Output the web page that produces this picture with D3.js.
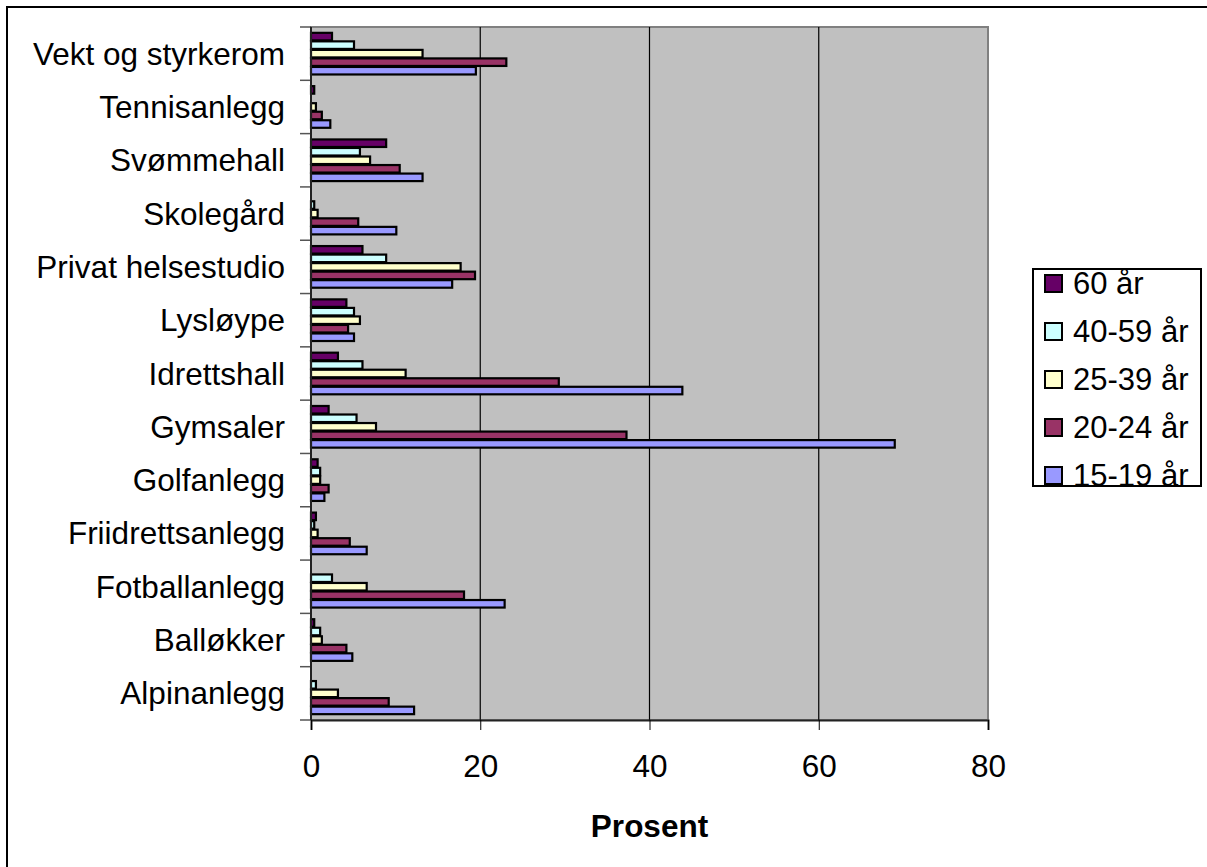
<!DOCTYPE html>
<html>
<head>
<meta charset="utf-8">
<script src="https://cdn.jsdelivr.net/npm/d3@7"></script>
<style>
  html, body { margin: 0; padding: 0; background: #fff; }
  svg { display: block; font-family: Arial, "Liberation Sans", sans-serif; }
</style>
</head>
<body>
<svg id="chart" width="1207" height="867"></svg>
<script>
// Facility categories, listed from the bottom of the chart upwards
const categories = ["Alpinanlegg", "Balløkker", "Fotballanlegg", "Friidrettsanlegg", "Golfanlegg",
  "Gymsaler", "Idrettshall", "Lysløype", "Privat helsestudio", "Skolegård",
  "Svømmehall", "Tennisanlegg", "Vekt og styrkerom"];

// Share (%) per age group, same order as categories
const age15_19 = [12.3, 5.0, 23.0, 6.7, 1.7, 69.1, 44.0, 5.2, 16.8, 10.2, 13.3, 2.4, 19.6];
const age20_24 = [9.3, 4.3, 18.2, 4.7, 2.2, 37.4, 29.4, 4.5, 19.5, 5.7, 10.6, 1.4, 23.2];
const age25_39 = [3.3, 1.4, 6.7, 0.9, 1.2, 7.8, 11.3, 5.9, 17.8, 0.9, 7.1, 0.7, 13.3];
const age40_59 = [0.7, 1.2, 2.6, 0.5, 1.2, 5.5, 6.2, 5.2, 9.0, 0.5, 5.9, 0, 5.2];
const age60 = [0, 0.5, 0, 0.7, 0.9, 2.2, 3.3, 4.3, 6.2, 0, 9.0, 0.5, 2.6];

const seriesNames = ["60 år", "40-59 år", "25-39 år", "20-24 år", "15-19 år"];
const seriesColors = ["#660066", "#CCFFFF", "#FFFFCC", "#993366", "#9999FF"];
const seriesValues = [age60, age40_59, age25_39, age20_24, age15_19];

const xTicks = [0, 20, 40, 60, 80];
const xTitle = "Prosent";

const svg = d3.select("#chart");
const plot = { left: 311, right: 988, top: 27, bottom: 720 };
const fontSize = 31.5;

// Outer chart frame
svg.append("rect")
  .attr("x", 7).attr("y", 7)
  .attr("width", 1220).attr("height", 880)
  .attr("fill", "#fff").attr("stroke", "#000").attr("stroke-width", 2);

const x = d3.scaleLinear().domain([0, 80]).range([plot.left, plot.right]);
const y = d3.scaleBand()
  .domain(categories.slice().reverse())
  .range([plot.top, plot.bottom])
  .paddingInner(0.2).paddingOuter(0.1);
const ySub = d3.scaleBand().domain(seriesNames).range([0, y.bandwidth()]);

// Plot background
svg.append("rect")
  .attr("x", plot.left).attr("y", plot.top)
  .attr("width", plot.right - plot.left).attr("height", plot.bottom - plot.top)
  .attr("fill", "#C0C0C0").attr("stroke", "#808080").attr("stroke-width", 2);

// Vertical gridlines
svg.append("g").selectAll("line")
  .data(xTicks.filter(t => t > 0 && t < 80))
  .join("line")
  .attr("x1", d => x(d)).attr("x2", d => x(d))
  .attr("y1", plot.top).attr("y2", plot.bottom)
  .attr("stroke", "#000").attr("stroke-width", 1.2);

// Bars
const rows = categories.map((c, i) => ({
  cat: c,
  vals: seriesNames.map((s, k) => ({ s, k, v: seriesValues[k][i] }))
}));

const groups = svg.append("g").selectAll("g")
  .data(rows).join("g")
  .attr("transform", d => `translate(0,${y(d.cat)})`);

groups.selectAll("rect")
  .data(d => d.vals.filter(e => e.v > 0))
  .join("rect")
  .attr("x", x(0))
  .attr("y", e => ySub(e.s) + 0.5)
  .attr("width", e => x(e.v) - x(0) - 1)
  .attr("height", ySub.bandwidth() - 1)
  .attr("fill", e => seriesColors[e.k])
  .attr("stroke", "#000").attr("stroke-width", 2.2);

// X axis
const xAxis = d3.axisBottom(x).tickValues(xTicks).tickSize(10).tickPadding(25);
const gx = svg.append("g").attr("transform", `translate(0,${plot.bottom})`).call(xAxis);
gx.select(".domain").attr("stroke", "#222").attr("stroke-width", 2);
gx.selectAll(".tick line").attr("stroke", "#000");
gx.selectAll(".tick text").attr("font-size", fontSize).attr("fill", "#000")
  .attr("font-family", "Arial, 'Liberation Sans', sans-serif");

// Y axis with ticks between categories
const boundaries = d3.range(categories.length + 1).map(i => plot.top + i * y.step());
svg.append("g").selectAll("line")
  .data(boundaries).join("line")
  .attr("x1", plot.left - 11).attr("x2", plot.left)
  .attr("y1", d => d).attr("y2", d => d)
  .attr("stroke", "#555").attr("stroke-width", 1.5);
svg.append("line")
  .attr("x1", plot.left).attr("x2", plot.left)
  .attr("y1", plot.top).attr("y2", plot.bottom)
  .attr("stroke", "#222").attr("stroke-width", 2);

svg.append("g").selectAll("text")
  .data(categories).join("text")
  .attr("x", 285)
  .attr("y", d => y(d) + y.bandwidth() / 2)
  .attr("dy", "0.35em")
  .attr("text-anchor", "end")
  .attr("font-size", fontSize)
  .attr("fill", "#000")
  .text(d => d);

// Axis title
svg.append("text")
  .attr("x", (plot.left + plot.right) / 2)
  .attr("y", 837)
  .attr("text-anchor", "middle")
  .attr("font-size", fontSize).attr("font-weight", "bold")
  .text(xTitle);

// Legend
const legend = svg.append("g");
legend.append("rect")
  .attr("x", 1033).attr("y", 269)
  .attr("width", 168).attr("height", 217)
  .attr("fill", "#fff").attr("stroke", "#000").attr("stroke-width", 2);
const items = legend.selectAll("g.item")
  .data(seriesNames).join("g").attr("class", "item")
  .attr("transform", (d, i) => `translate(1045,${283 + i * 48})`);
items.append("rect")
  .attr("x", 0).attr("y", -8)
  .attr("width", 17).attr("height", 17)
  .attr("fill", (d, i) => seriesColors[i])
  .attr("stroke", "#000").attr("stroke-width", 2);
items.append("text")
  .attr("x", 28).attr("y", 0).attr("dy", "0.35em")
  .attr("font-size", 31)
  .text(d => d);
</script>
</body>
</html>
